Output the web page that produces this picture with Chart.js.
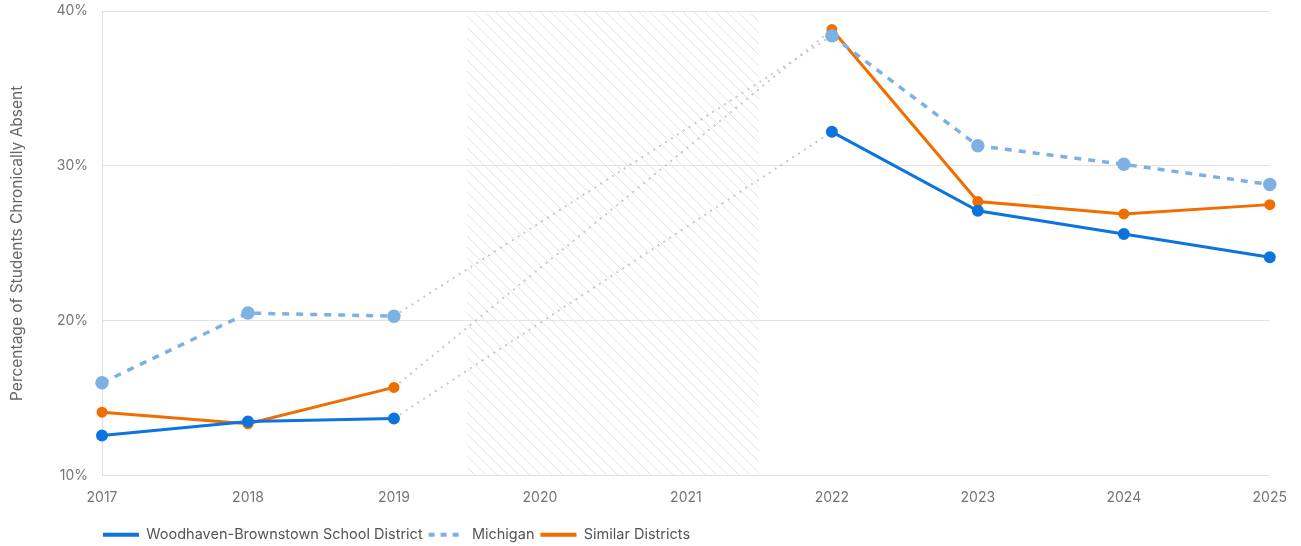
<!DOCTYPE html>
<html>
<head>
<meta charset="utf-8">
<script src="https://cdn.jsdelivr.net/npm/chart.js@4"></script>
<style>
  html, body { margin: 0; padding: 0; background: #fff; }
  #wrap { width: 1301px; height: 546px; }
</style>
</head>
<body>
<div id="wrap"><canvas id="chart" width="1301" height="546"></canvas></div>
<script>
// Chronic absence data (null = no data, 2020/2021 pandemic years)
const years = ['2017', '2018', '2019', '2020', '2021', '2022', '2023', '2024', '2025'];
const woodhaven = [12.6, 13.5, 13.7, null, null, 32.2, 27.1, 25.6, 24.1];
const michigan = [16.0, 20.5, 20.3, null, null, 38.4, 31.3, 30.1, 28.8];
const similar = [14.1, 13.35, 15.7, null, null, 38.8, 27.7, 26.9, 27.5];
const yTicks = [10, 20, 30, 40];
const shadedYears = ['2020', '2021'];

const GAP_COLOR = '#c9c9c9';
const FONT = 'Inter, "Open Sans", sans-serif';
const LEGEND_PAD = 6;

// gray dotted segment where a gap is spanned
const isGap = ctx => ctx.p0.skip || ctx.p1.skip;
function gapSegment() {
    return {
        borderColor: ctx => isGap(ctx) ? GAP_COLOR : undefined,
        borderDash: ctx => isGap(ctx) ? [2, 5] : undefined,
        borderWidth: ctx => isGap(ctx) ? 2 : undefined
    };
}

// hatch pattern for the no-data years
function makeHatch() {
    const c = document.createElement('canvas');
    c.width = 11;
    c.height = 11;
    const g = c.getContext('2d');
    g.strokeStyle = '#e4e4e4';
    g.lineWidth = 1;
    g.beginPath();
    g.moveTo(0, 0); g.lineTo(11, 11);
    g.moveTo(-11, 0); g.lineTo(11, 22);
    g.moveTo(0, -11); g.lineTo(22, 11);
    g.stroke();
    return g.createPattern(c, 'repeat');
}

const hatchPlugin = {
    id: 'hatch',
    beforeDatasetsDraw(chart) {
        const x = chart.scales.x;
        const area = chart.chartArea;
        const first = years.indexOf(shadedYears[0]);
        const last = years.indexOf(shadedYears[shadedYears.length - 1]);
        const half = (x.getPixelForValue(1) - x.getPixelForValue(0)) / 2;
        const left = x.getPixelForValue(first) - half;
        const right = x.getPixelForValue(last) + half;
        const ctx = chart.ctx;
        ctx.save();
        ctx.fillStyle = makeHatch();
        ctx.fillRect(left, area.top, right - left, area.bottom - area.top);
        ctx.restore();
    }
};

// move legend to line up with the plot's left edge
const legendShift = {
    id: 'legendShift',
    afterLayout(chart) {
        chart.legend.left = chart.chartArea.left + 1 - LEGEND_PAD;
    }
};

// legend entries drawn as short lines, keeping each dataset's dash
function legendLabels(chart) {
    const base = Chart.defaults.plugins.legend.labels.generateLabels(chart);
    return base.map((item, i) => {
        const ds = chart.data.datasets[i];
        return Object.assign(item, {
            strokeStyle: ds.borderColor,
            fillStyle: ds.borderColor,
            lineDash: ds.borderDash ? [6, 6] : [],
            lineWidth: 4,
            lineCap: 'butt'
        });
    });
}

new Chart(document.getElementById('chart'), {
    type: 'line',
    data: {
        labels: years,
        datasets: [
            {
                label: 'Woodhaven-Brownstown School District',
                data: woodhaven,
                borderColor: '#0b74de',
                backgroundColor: '#0b74de',
                borderWidth: 3,
                pointRadius: 4.5,
                pointHoverRadius: 5,
                spanGaps: true,
                segment: gapSegment()
            },
            {
                label: 'Michigan',
                data: michigan,
                borderColor: '#7eb1e3',
                backgroundColor: '#7eb1e3',
                borderWidth: 3.5,
                borderDash: [7, 7],
                pointRadius: 5,
                pointHoverRadius: 5,
                spanGaps: true,
                segment: gapSegment()
            },
            {
                label: 'Similar Districts',
                data: similar,
                borderColor: '#f26d00',
                backgroundColor: '#f26d00',
                borderWidth: 3,
                pointRadius: 4,
                pointHoverRadius: 5,
                spanGaps: true,
                segment: gapSegment()
            }
        ]
    },
    options: {
        responsive: false,
        animation: false,
        layout: { autoPadding: false, padding: { top: 11, right: 26, left: 8, bottom: -6 } },
        plugins: {
            tooltip: { enabled: false },
            legend: {
                position: 'bottom',
                align: 'start',
                labels: {
                    usePointStyle: true,
                    pointStyle: 'line',
                    pointStyleWidth: 36,
                    boxWidth: 36,
                    boxHeight: 4,
                    padding: LEGEND_PAD,
                    color: '#555',
                    font: { family: FONT, size: 14.5 },
                    generateLabels: legendLabels
                }
            }
        },
        scales: {
            x: {
                offset: false,
                afterFit(scale) { scale.height += 1; },
                grid: { display: false, drawTicks: false },
                border: { display: true, color: '#e0e0e0', width: 1 },
                ticks: {
                    color: '#757575',
                    padding: 14,
                    maxRotation: 0,
                    font: { family: FONT, size: 14 }
                }
            },
            y: {
                min: 10,
                max: 40,
                afterFit(scale) {
                    scale.width = 94;
                    scale.paddingTop = 0;
                    scale.paddingBottom = 0;
                },
                afterBuildTicks(scale) { scale.ticks = yTicks.map(v => ({ value: v })); },
                grid: { color: '#e3e3e3', drawTicks: false },
                border: { display: true, color: '#e0e0e0' },
                ticks: {
                    color: '#757575',
                    padding: 14,
                    font: { family: FONT, size: 14 },
                    callback: v => v + '%'
                },
                title: {
                    display: true,
                    text: 'Percentage of Students Chronically Absent',
                    color: '#666',
                    padding: 0,
                    font: { family: FONT, size: 15.5 }
                }
            }
        }
    },
    plugins: [hatchPlugin, legendShift]
});
</script>
</body>
</html>
